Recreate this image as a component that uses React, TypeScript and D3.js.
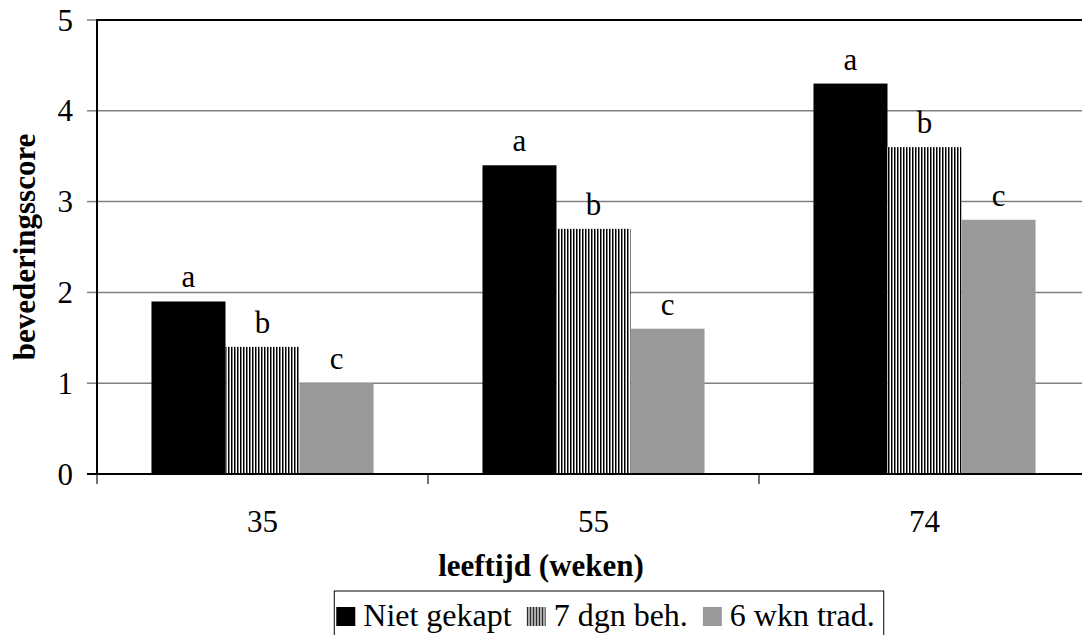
import * as d3 from "d3";
import { useEffect, useRef } from "react";

const ages = ["35", "55", "74"];
const series = ["Niet gekapt", "7 dgn beh.", "6 wkn trad."];
const nietGekapt = [1.9, 3.4, 4.3];
const zevenDgn = [1.4, 2.7, 3.6];
const zesWkn = [1.0, 1.6, 2.8];
const letters = ["a", "b", "c"];
const yTicks = [0, 1, 2, 3, 4, 5];

const W = 1082;
const H = 635;
const FONT = "Liberation Serif, Times New Roman, serif";

const App = () => {
  const svgRef = useRef<SVGSVGElement>(null);

  useEffect(() => {
    const svg = d3.select(svgRef.current);
    svg.selectAll("*").remove();

    const margin = { top: 20, left: 97, bottom: 474, right: 1090 };
    const values = [nietGekapt, zevenDgn, zesWkn];

    const defs = svg.append("defs");
    const pat = defs
      .append("pattern")
      .attr("id", "stripes")
      .attr("patternUnits", "userSpaceOnUse")
      .attr("width", 3)
      .attr("height", 4);
    pat.append("rect").attr("width", 3).attr("height", 4).attr("fill", "#fff");
    pat.append("rect").attr("width", 1.5).attr("height", 4).attr("fill", "#000");

    const fills = ["#000", "url(#stripes)", "#999999"];

    const x = d3.scaleBand().domain(ages).range([margin.left, margin.right]);
    const xs = d3
      .scaleBand()
      .domain(series)
      .range([0, x.bandwidth()])
      .paddingInner(0)
      .paddingOuter(0.736);
    const y = d3.scaleLinear().domain([0, 5]).range([margin.bottom, margin.top]);

    // gridlines
    svg
      .append("g")
      .selectAll("line")
      .data(yTicks.filter((t) => t > 0 && t < 5))
      .join("line")
      .attr("x1", margin.left)
      .attr("x2", margin.right)
      .attr("y1", (d) => y(d))
      .attr("y2", (d) => y(d))
      .attr("stroke", "#808080")
      .attr("stroke-width", 1.5);

    // top border
    svg
      .append("line")
      .attr("x1", margin.left)
      .attr("x2", margin.right)
      .attr("y1", y(5))
      .attr("y2", y(5))
      .attr("stroke", "#000")
      .attr("stroke-width", 2);

    // bars + letters
    series.forEach((s, si) => {
      svg
        .append("g")
        .selectAll("rect")
        .data(ages)
        .join("rect")
        .attr("x", (a) => (x(a) as number) + (xs(s) as number))
        .attr("width", xs.bandwidth())
        .attr("y", (a, i) => y(values[si][i]))
        .attr("height", (a, i) => y(0) - y(values[si][i]))
        .attr("fill", fills[si]);

      svg
        .append("g")
        .selectAll("text")
        .data(ages)
        .join("text")
        .attr("x", (a) => (x(a) as number) + (xs(s) as number) + xs.bandwidth() / 2)
        .attr("y", (a, i) => y(values[si][i]) - 14)
        .attr("text-anchor", "middle")
        .attr("font-family", FONT)
        .attr("font-size", 31)
        .text(letters[si]);
    });

    // y axis
    svg
      .append("g")
      .selectAll("line")
      .data(yTicks)
      .join("line")
      .attr("x1", margin.left - 10)
      .attr("x2", margin.left)
      .attr("y1", (d) => y(d))
      .attr("y2", (d) => y(d))
      .attr("stroke", "#808080")
      .attr("stroke-width", 1.5);
    svg
      .append("line")
      .attr("x1", margin.left)
      .attr("x2", margin.left)
      .attr("y1", y(5) - 1)
      .attr("y2", y(0) + 1)
      .attr("stroke", "#000")
      .attr("stroke-width", 2);
    svg
      .append("g")
      .selectAll("text")
      .data(yTicks)
      .join("text")
      .attr("x", margin.left - 24)
      .attr("y", (d) => y(d))
      .attr("dy", "0.34em")
      .attr("text-anchor", "end")
      .attr("font-family", FONT)
      .attr("font-size", 31)
      .text((d) => d);

    // x axis
    const boundaries = ages.map((a) => x(a) as number).concat([margin.right]);
    svg
      .append("g")
      .selectAll("line")
      .data(boundaries)
      .join("line")
      .attr("x1", (d) => d)
      .attr("x2", (d) => d)
      .attr("y1", y(0))
      .attr("y2", y(0) + 10)
      .attr("stroke", "#444")
      .attr("stroke-width", 1.5);
    svg
      .append("line")
      .attr("x1", margin.left - 10)
      .attr("x2", margin.right)
      .attr("y1", y(0))
      .attr("y2", y(0))
      .attr("stroke", "#000")
      .attr("stroke-width", 2);
    svg
      .append("g")
      .selectAll("text")
      .data(ages)
      .join("text")
      .attr("x", (a) => (x(a) as number) + x.bandwidth() / 2)
      .attr("y", 532)
      .attr("text-anchor", "middle")
      .attr("font-family", FONT)
      .attr("font-size", 31)
      .text((d) => d);

    // axis titles
    svg
      .append("text")
      .attr("x", 541)
      .attr("y", 576)
      .attr("text-anchor", "middle")
      .attr("font-family", FONT)
      .attr("font-weight", "bold")
      .attr("font-size", 31)
      .text("leeftijd (weken)");
    svg
      .append("text")
      .attr("transform", `translate(35,${(y(0) + y(5)) / 2}) rotate(-90)`)
      .attr("text-anchor", "middle")
      .attr("font-family", FONT)
      .attr("font-weight", "bold")
      .attr("font-size", 31)
      .text("bevederingsscore");

    // legend
    const lg = svg.append("g");
    const sw = 19;
    const gap = 8;
    const itemGap = 15;
    let cx = 0;
    const items = lg.selectAll("g").data(series).join("g");
    items
      .append("rect")
      .attr("width", sw)
      .attr("height", sw)
      .attr("y", -sw)
      .attr("fill", (d, i) => fills[i]);
    items
      .append("text")
      .attr("x", sw + gap)
      .attr("font-family", FONT)
      .attr("font-size", 32)
      .text((d) => d);
    items.each(function () {
      const g = d3.select(this);
      g.attr("transform", `translate(${cx},0)`);
      const tw = (g.select("text").node() as SVGTextElement).getComputedTextLength();
      cx += sw + gap + tw + itemGap;
    });
    const legW = cx - itemGap + 2 + 9;
    const legLeft = 609 - legW / 2;
    lg.attr("transform", `translate(${legLeft + 2},626)`);
    svg
      .insert("rect", "g")
      .attr("x", legLeft)
      .attr("y", 591)
      .attr("width", legW)
      .attr("height", 60)
      .attr("fill", "#fff")
      .attr("stroke", "#000")
      .attr("stroke-width", 1);
  }, []);

  return (
    <svg
      ref={svgRef}
      width={W}
      height={H}
      style={{ position: "absolute", left: 0, top: 0, background: "#fff" }}
    />
  );
};

export default App;
